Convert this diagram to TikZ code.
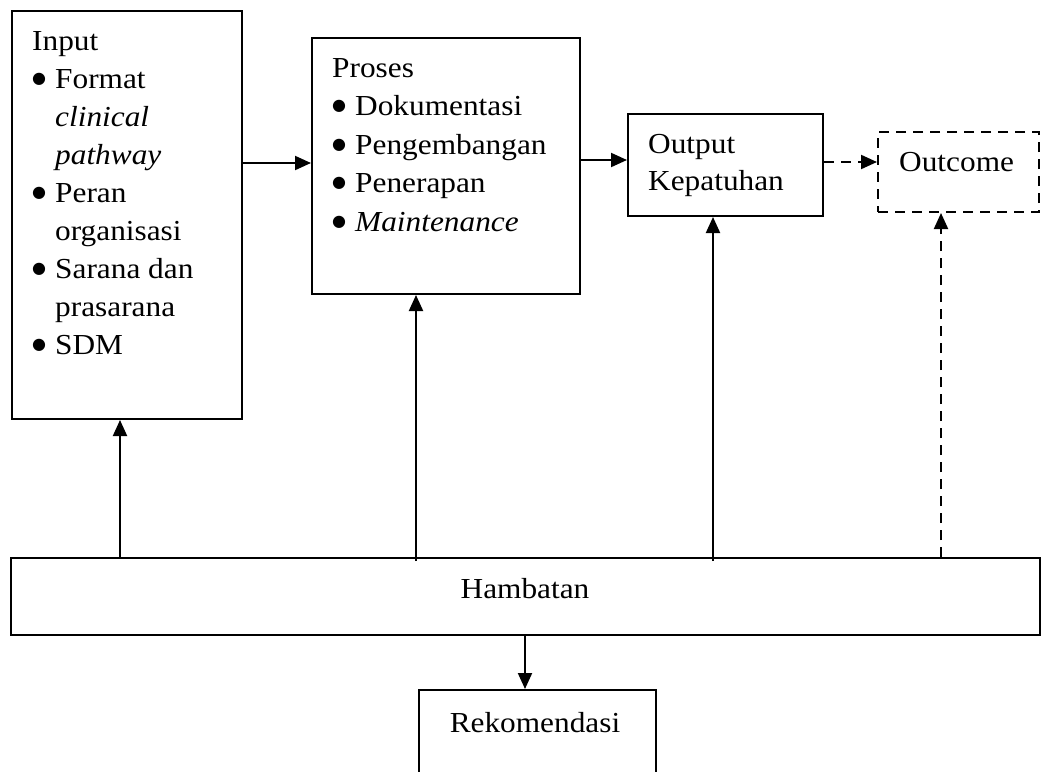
\documentclass[tikz,border=0pt]{standalone}
\usepackage{fontspec}
\setmainfont{Liberation Serif}[FakeStretch=1.08]
\newfontfamily\symf{DejaVu Sans}
\usetikzlibrary{arrows.meta}
\newcommand{\bigbul}{\makebox[23pt][l]{\raisebox{5pt}{\symf\fontsize{16}{16}\selectfont ●}}}
\begin{document}
\begin{tikzpicture}[x=1pt,y=-1pt,
  box/.style={draw, line width=2pt, rectangle, inner sep=0pt, anchor=north west},
  dbox/.style={box, dash pattern=on 10pt off 7pt},
  txt/.style={inner sep=0pt, anchor=base west, font=\fontsize{29}{38}\selectfont},
  ctxt/.style={txt, anchor=base},
  arr/.style={line width=2pt, -{Triangle[length=16pt,width=14pt]}},
  darr/.style={arr, dash pattern=on 10pt off 7pt}]
\useasboundingbox (0,0) rectangle (1041,771);
\clip (0,0) rectangle (1041,771);
% boxes
\node[box, minimum width=230pt, minimum height=408pt] (input) at (11,10) {};
\node[box, minimum width=268pt, minimum height=256pt] (proses) at (311,37) {};
\node[box, minimum width=195pt, minimum height=102pt] (output) at (627,113) {};
\node[dbox, minimum width=161pt, minimum height=80pt] (outcome) at (877,131) {};
\node[box, minimum width=1029pt, minimum height=77pt] (ham) at (10,557) {};
\node[box, minimum width=237pt, minimum height=120pt] (rek) at (418,689) {};
% input text
\node[txt] (t1) at (32,50) {Input};
\node[txt] (t2) at (32,88) {\bigbul Format};
\node[txt] (t3) at (55,126) {\textit{clinical}};
\node[txt] (t4) at (55,164) {\textit{pathway}};
\node[txt] (t5) at (32,202) {\bigbul Peran};
\node[txt] (t6) at (55,240) {organisasi};
\node[txt] (t7) at (32,278) {\bigbul Sarana dan};
\node[txt] (t8) at (55,316) {prasarana};
\node[txt] (t9) at (32,354) {\bigbul SDM};
% proses text
\node[txt] (p0) at (332,77) {Proses};
\node[txt] (p1) at (332,115.6) {\bigbul Dokumentasi};
\node[txt] (p2) at (332,154.2) {\bigbul Pengembangan};
\node[txt] (p3) at (332,192.8) {\bigbul Penerapan};
\node[txt] (p4) at (332,231.4) {\bigbul\textit{Maintenance}};
% output / outcome
\node[txt] (o1) at (648,153) {Output};
\node[txt] (o2) at (648,190) {Kepatuhan};
\node[txt] (oc) at (899,171) {Outcome};
\node[ctxt] (ht) at (525,598) {Hambatan};
\node[ctxt] (rt) at (535,732) {Rekomendasi};
% connector x/y positions
\coordinate (y1) at (0,163);
\coordinate (y2) at (0,160);
\coordinate (y3) at (0,162);
\coordinate (x1) at (120,0);
\coordinate (x2) at (416,0);
\coordinate (x3) at (713,0);
\coordinate (x4) at (941,0);
\coordinate (x5) at (525,0);
% horizontal arrows
\draw[arr] (input.east |- y1) -- (proses.west |- y1);
\draw[arr] (proses.east |- y2) -- (output.west |- y2);
\draw[darr] (output.east |- y3) -- (outcome.west |- y3);
% vertical arrows
\draw[arr] (ham.north -| x1) -- (input.south -| x1);
\draw[arr] ([yshift=-4pt]ham.north -| x2) -- (proses.south -| x2);
\draw[arr] ([yshift=-4pt]ham.north -| x3) -- (output.south -| x3);
\draw[darr] (ham.north -| x4) -- (outcome.south -| x4);
\draw[arr] (ham.south -| x5) -- (rek.north -| x5);
\end{tikzpicture}
\end{document}
